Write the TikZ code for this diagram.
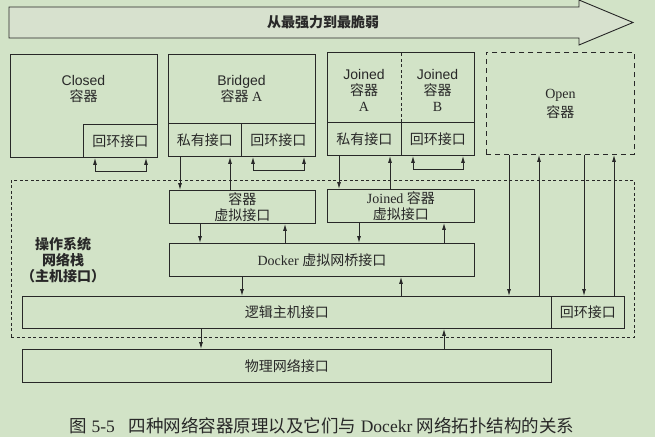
\documentclass[tikz,border=0pt]{standalone}
\usepackage{fontspec}
\setmainfont{Liberation Serif}
\newfontfamily\cjk{Noto Sans CJK SC}
\newfontfamily\arialf{Liberation Sans}
\newcommand{\zh}[1]{{\cjk #1}}
\usetikzlibrary{arrows.meta}
\definecolor{paper}{RGB}{210,227,199}
\definecolor{arrowfill}{RGB}{215,225,206}
\definecolor{ink}{RGB}{40,40,40}
\tikzset{
	box/.style={draw=ink, line width=0.9pt, anchor=north west, inner sep=0pt, minimum height=33pt,
		font=\fontsize{14}{16}\selectfont, align=center, text=ink},
	openbox/.style={box, dash pattern=on 5pt off 4pt},
	hostbox/.style={box, dash pattern=on 3pt off 2.5pt},
	txt/.style={font=\fontsize{14}{16}\selectfont, align=center, text=ink, inner sep=0pt},
	link/.style={draw=ink, line width=0.9pt},
	>={Latex[length=7pt,width=4pt]},
}

\begin{document}
\begin{tikzpicture}[x=1pt,y=-1pt]
	\fill[paper] (0,0) rectangle (655,437);
	\useasboundingbox (0,0) rectangle (655,437);

	% strength arrow
	\draw[link, fill=arrowfill] (9,7) -- (579,7) -- (579,0) -- (633,22.5) -- (579,45) -- (579,38) -- (9,38) -- cycle;
	\node[txt, font=\fontsize{14}{16}\selectfont\bfseries] (strength) at (323,22.5) {\zh{从最强力到最脆弱}};

	% containers
	\node[box, minimum width=147pt, minimum height=103pt] (closed) at (10,54) {};
	\node[box, minimum width=74pt] (cloop) at (83,124) {\zh{回环接口}};
	\node[txt] (closedt) at (83.5,89) {{\arialf Closed}\\\zh{容器}};

	\node[box, minimum width=147pt, minimum height=102pt] (bridged) at (168,54) {};
	\node[box, minimum width=73pt] (bpriv) at (168,123) {\zh{私有接口}};
	\node[box, minimum width=74pt] (bloop) at (241,123) {\zh{回环接口}};
	\node[txt] (bridgedt) at (241.5,89) {{\arialf Bridged}\\\zh{容器} A};

	\node[box, minimum width=147pt, minimum height=103pt] (joined) at (327,52) {};
	\node[box, minimum width=74pt] (jpriv) at (327,122) {\zh{私有接口}};
	\node[box, minimum width=73pt] (jloop) at (401,122) {\zh{回环接口}};
	\draw[link, dash pattern=on 3pt off 2.5pt] (jpriv.north east) -- (joined.north -| jpriv.east);
	\node[txt] (joineda) at (364,90) {{\arialf Joined}\\\zh{容器}\\A};
	\node[txt] (joinedb) at (437.5,90) {{\arialf Joined}\\\zh{容器}\\B};

	\node[openbox, minimum width=148pt, minimum height=102pt] (open) at (486,52) {Open\\[3pt]\zh{容器}};

	% host network stack
	\node[hostbox, minimum width=623pt, minimum height=157pt] (host) at (11,180) {};
	\node[txt, font=\fontsize{14}{16}\selectfont\bfseries] (hostt) at (63,260) {\zh{操作系统}\\\zh{网络栈}\\\zh{（主机接口）}};

	\node[box, minimum width=146pt] (bvirt) at (169,190) {\zh{容器}\\\zh{虚拟接口}};
	\node[box, minimum width=147pt] (jvirt) at (327,189) {Joined \zh{容器}\\\zh{虚拟接口}};
	\node[box, minimum width=305pt] (bridge) at (169,243) {Docker \zh{虚拟网桥接口}};
	\node[box, minimum width=529pt, minimum height=32pt] (logic) at (22,296) {\zh{逻辑主机接口}};
	\node[box, minimum width=73pt, minimum height=32pt] (hloop) at (551,296) {\zh{回环接口}};
	\node[box, minimum width=529pt] (phys) at (22,349) {\zh{物理网络接口}};

	% caption
	\node[anchor=base, inner sep=0pt, font=\fontsize{17.5}{20}\selectfont, text=ink] (caption) at (322,432)
		{\zh{图} 5-5\hspace{0.8em}\zh{四种网络容器原理以及它们与} Docekr \zh{网络拓扑结构的关系}};

	% columns of the connectors
	\foreach \n/\x in {cl1/95, cl2/146, b1/180, b2/230, bl1/253, bl2/304, j1/339, j2/390, jl1/413, jl2/463,
		o1/509, o2/539, o3/584, o4/614, v1/200, v2/285, v3/359, v4/444, d1/242, d2/401, p1/201, p2/444}
		\coordinate (\n) at (\x,0);

	% loopbacks
	\draw[link, <->] (cloop.south -| cl1) -- ++(0,14) -| (cloop.south -| cl2);
	\draw[link, <->] (bloop.south -| bl1) -- ++(0,14) -| (bloop.south -| bl2);
	\draw[link, <->] (jloop.south -| jl1) -- ++(0,14) -| (jloop.south -| jl2);

	% private interfaces
	\draw[link, ->] (bpriv.south -| b1) -- (bvirt.north -| b1);
	\draw[link, <-] (bpriv.south -| b2) -- (bvirt.north -| b2);
	\draw[link, ->] (jpriv.south -| j1) -- (jvirt.north -| j1);
	\draw[link, <-] (jpriv.south -| j2) -- (jvirt.north -| j2);

	% open container
	\foreach \c in {o1,o3}
		\draw[link, ->] (open.south -| \c) -- (logic.north -| \c);
	\foreach \c in {o2,o4}
		\draw[link, <-] (open.south -| \c) -- (logic.north -| \c);

	% bridge
	\draw[link, ->] (bvirt.south -| v1) -- (bridge.north -| v1);
	\draw[link, <-] (bvirt.south -| v2) -- (bridge.north -| v2);
	\draw[link, ->] (jvirt.south -| v3) -- (bridge.north -| v3);
	\draw[link, <-] (jvirt.south -| v4) -- (bridge.north -| v4);
	\draw[link, ->] (bridge.south -| d1) -- (logic.north -| d1);
	\draw[link, <-] (bridge.south -| d2) -- (logic.north -| d2);

	% physical
	\draw[link, ->] (logic.south -| p1) -- (phys.north -| p1);
	\draw[link, <-] (logic.south -| p2) -- (phys.north -| p2);
\end{tikzpicture}
\end{document}
